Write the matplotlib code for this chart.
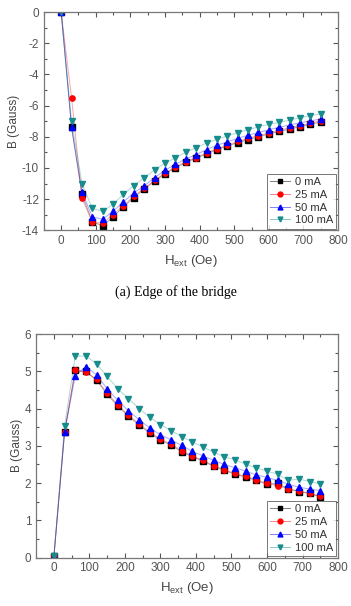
import numpy as np
import matplotlib
matplotlib.use("Agg")
import matplotlib.pyplot as plt
from matplotlib.ticker import MultipleLocator

# Поле H_ext (Oe)
h_ext = [0, 30, 60, 90, 120, 150, 180, 210, 240, 270, 300, 330, 360,
         390, 420, 450, 480, 510, 540, 570, 600, 630, 660, 690, 720, 750]

# (a) край мостика, B (Gauss)
edge_0 = [0, -7.4, -11.7, -13.45, -13.72, -13.14, -12.5, -11.9, -11.35, -10.85, -10.38, -10.0, -9.65,
          -9.37, -9.1, -8.82, -8.6, -8.37, -8.18, -8.0, -7.82, -7.66, -7.5, -7.35, -7.2, -7.05]
edge_25 = [0, -5.5, -11.92, -13.5, -13.53, -12.99, -12.41, -11.81, -11.3, -10.79, -10.32, -9.94, -9.6,
           -9.33, -9.03, -8.76, -8.55, -8.3, -8.1, -7.92, -7.75, -7.58, -7.42, -7.28, -7.13, -6.98]
edge_50 = [0, -7.37, -11.53, -13.14, -13.29, -12.78, -12.18, -11.6, -11.15, -10.62, -10.15, -9.77, -9.42,
           -9.14, -8.82, -8.54, -8.33, -8.1, -7.9, -7.72, -7.55, -7.39, -7.24, -7.1, -6.98, -6.86]
edge_100 = [0, -7.0, -11.0, -12.6, -12.78, -12.33, -11.69, -11.13, -10.62, -10.13, -9.69, -9.35, -8.99,
            -8.69, -8.4, -8.16, -7.95, -7.73, -7.54, -7.37, -7.2, -7.07, -6.94, -6.77, -6.64, -6.53]

# (b) B (Gauss)
mid_0 = [0.03, 3.36, 5.03, 5.0, 4.77, 4.38, 4.07, 3.79, 3.56, 3.34, 3.15, 3.02, 2.84,
         2.71, 2.59, 2.45, 2.34, 2.24, 2.16, 2.07, 1.97, 1.99, 1.84, 1.77, 1.72, 1.63]
mid_25 = [0.03, 3.38, 5.03, 4.97, 4.79, 4.42, 4.10, 3.82, 3.59, 3.37, 3.18, 3.05, 2.87,
          2.73, 2.61, 2.47, 2.36, 2.26, 2.18, 2.09, 1.99, 1.93, 1.85, 1.78, 1.73, 1.64]
mid_50 = [0.03, 3.37, 4.88, 5.13, 4.91, 4.53, 4.22, 3.94, 3.70, 3.48, 3.30, 3.16, 3.01,
          2.85, 2.73, 2.61, 2.50, 2.41, 2.32, 2.22, 2.15, 2.07, 1.97, 1.89, 1.84, 1.80]
mid_100 = [0.03, 3.54, 5.40, 5.42, 5.20, 4.87, 4.53, 4.27, 4.0, 3.77, 3.57, 3.41, 3.25,
           3.10, 2.97, 2.83, 2.70, 2.63, 2.50, 2.41, 2.32, 2.24, 2.07, 2.11, 2.04, 1.98]

labels = ['0 mA', '25 mA', '50 mA', '100 mA']
colors = ['#000000', '#ff0000', '#0000ff', '#168c8c']
markers = ['s', 'o', '^', 'v']

plt.rcParams['font.family'] = ['Liberation Sans', 'DejaVu Sans']
plt.rcParams['axes.unicode_minus'] = False

fig = plt.figure(figsize=(3.51, 6.06), dpi=100)
ax1 = fig.add_axes([0.125, 0.620, 0.838, 0.360])
ax2 = fig.add_axes([0.103, 0.080, 0.860, 0.3686])


def draw(ax, series, ylim, ymajor):
    for y, lab, c, m in zip(series, labels, colors, markers):
        ax.plot(h_ext, y, color=c, lw=0, marker=m, ms=3.8,
                mfc=c, mec=c, label=lab)
    # линии отдельно, бледнее
    for y, c in zip(series, colors):
        ax.plot(h_ext, y, color=c, alpha=0.35, lw=0.7, zorder=1)
    ax.set_xlim(-50, 800)
    ax.set_ylim(*ylim)
    ax.xaxis.set_major_locator(MultipleLocator(100))
    ax.xaxis.set_minor_locator(MultipleLocator(50))
    ax.yaxis.set_major_locator(MultipleLocator(ymajor))
    ax.yaxis.set_minor_locator(MultipleLocator(ymajor / 2))
    ax.tick_params(which='both', direction='in', top=True, right=True,
                   colors='#555555', labelsize=8.5, width=0.8)
    ax.tick_params(which='major', length=3.5)
    ax.tick_params(which='minor', length=2)
    for s in ax.spines.values():
        s.set_color('#777777')
        s.set_linewidth(0.9)
    ax.set_xlabel(r'H$_{\mathregular{ext}}$ (Oe)', fontsize=9.5, color='#444444', labelpad=4)
    ax.set_ylabel('B (Gauss)', fontsize=8.5, color='#444444', labelpad=1)

    # легенда: маркер + бледная линия
    handles = [plt.Line2D([], [], color=c, lw=0.7, alpha=0.5) for c in colors]
    mk = [plt.Line2D([], [], lw=0, marker=m, ms=3.5, color=c) for c, m in zip(colors, markers)]
    leg = ax.legend([(h, k) for h, k in zip(handles, mk)], labels, loc='lower right',
                    fontsize=8, frameon=True, fancybox=False, borderaxespad=0.15,
                    handlelength=1.8, handletextpad=0.4, labelspacing=0.25,
                    borderpad=0.3)
    leg.get_frame().set_edgecolor('#555555')
    leg.get_frame().set_linewidth(0.7)
    for t in leg.get_texts():
        t.set_color('#333333')


draw(ax1, [edge_0, edge_25, edge_50, edge_100], (-14, 0), 2)
draw(ax2, [mid_0, mid_25, mid_50, mid_100], (0, 6), 1)

fig.text(0.5, 0.518, '(a) Edge of the bridge', ha='center', va='center',
         fontsize=10, family=['Liberation Serif', 'DejaVu Serif'])

fig.savefig('out.png', dpi=100)
